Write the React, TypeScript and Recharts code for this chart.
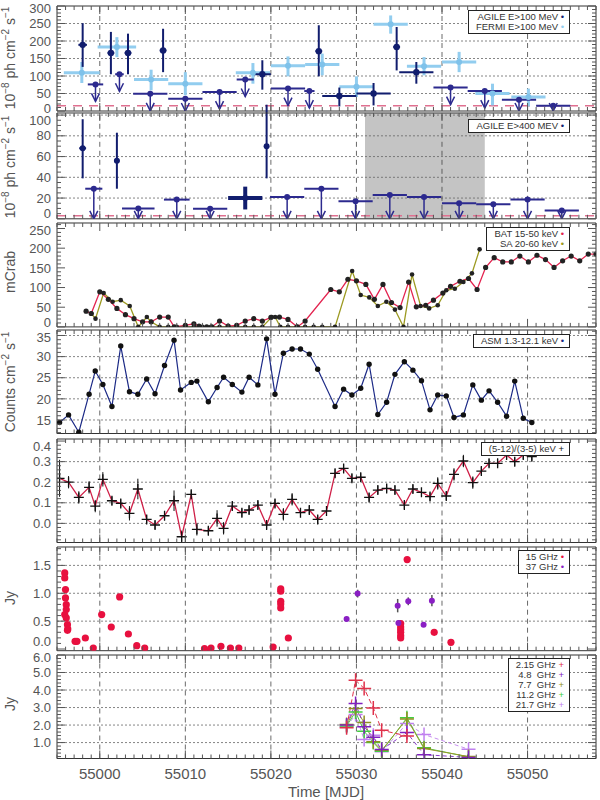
import React from 'react'
import {
  ComposedChart,
  ErrorBar,
  Line,
  ReferenceArea,
  ReferenceLine,
  Scatter,
  XAxis,
  YAxis,
} from 'recharts'

const FONT = '"Liberation Sans", "DejaVu Sans", Arial, sans-serif'
const INK = '#555'
const NAVY = '#111d6e'
const UL_NAVY = '#2c2a8e'
const FERMI = '#92cdef'
const BAT_RED = '#e3234f'
const SA_OLIVE = '#9c9a22'
const ASM_NAVY = '#1c2a86'
const HR_RED = '#cf1f47'
const R15 = '#e8103f'
const R37 = '#8a1fc4'

// shared time axis (MJD)
const X_DOMAIN: [number, number] = [54995, 55058]
const X_GRID = [55000, 55010, 55020, 55030, 55040, 55050]
const X_TICKS: number[] = []
for (let d = 54995; d <= 55058; d++) X_TICKS.push(d)

// --- AGILE / FERMI E>100 MeV ---
const AG100_X = [54998.0, 55001.3, 55003.3, 55007.4, 55019.0, 55025.6, 55028.0, 55032.0, 55034.7, 55037.0]
const AG100_Y = [189, 166, 166, 173, 105, 171, 43, 50, 183, 111]
const AG100_LO = [126, 105, 105, 111, 61, 99, 13, 16, 116, 78]
const AG100_HI = [251, 226, 221, 235, 145, 245, 67, 80, 240, 140]
const AG100_DX = [0.5, 0.4, 0.4, 0.4, 1, 0.4, 2, 2, 0.4, 2]
const AG100_UL_X = [54999.5, 55002.3, 55005.9, 55010.0, 55014.0, 55017.0, 55022.0, 55024.5, 55041.0, 55045.0, 55049.0, 55053.0]
const AG100_UL_Y = [76, 105, 49, 35, 54, 90, 64, 57, 67, 57, 32, 15]
const AG100_UL_DX = [0.9, 0.5, 2, 2, 2, 1, 2, 0.6, 2, 2, 2, 2]
const FERMI_X = [54997.9, 55002.0, 55006.0, 55010.0, 55017.9, 55022.0, 55026.0, 55030.0, 55034.0, 55037.9, 55042.0, 55045.9, 55050.1]
const FERMI_Y = [109, 183, 90, 78, 109, 129, 133, 69, 248, 128, 140, 50, 40]
const FERMI_LO = [80, 154, 59, 45, 78, 99, 102, 40, 221, 102, 111, 16, 13]
const FERMI_HI = [140, 211, 118, 111, 137, 156, 164, 99, 273, 154, 169, 78, 64]
const FERMI_DX = [2.1, 2.25, 2, 2, 2, 2, 2, 2, 2, 2, 2, 2, 2]

// --- AGILE E>400 MeV ---
const AG400_X = [54998.0, 55002.0, 55019.5]
const AG400_Y = [68, 56, 70]
const AG400_LO = [39, 29, 39]
const AG400_HI = [96, 83, 110]
const AG400_DX = [0.4, 0.3, 0.2]
const AG400_WIDE_X = [55017.0]
const AG400_WIDE_Y = [20]
const AG400_WIDE_LO = [9]
const AG400_WIDE_HI = [31]
const AG400_WIDE_DX = [2]
const AG400_UL_X = [54999.3, 55004.5, 55009.0, 55012.9, 55021.9, 55025.9, 55029.9, 55033.9, 55037.9, 55042.0, 55046.0, 55050.0, 55054.0]
const AG400_UL_Y = [29, 10, 18.5, 9.8, 21, 29, 17, 23, 21, 15, 14, 18.5, 8]
const AG400_UL_DX = [1, 1.9, 1.5, 2, 2, 2, 2, 2, 2, 2, 2, 2, 2]
const SHADE: [number, number] = [55031, 55045]

// --- BAT / SuperAGILE (mCrab) ---
const BAT_X = [54998.4, 54999.0, 55000.0, 55001.0, 55002.0, 55003.0, 55004.0, 55005.0, 55006.0, 55007.0, 55008.0, 55008.7, 55010.0, 55011.0, 55011.6, 55012.5, 55013.1, 55014.0, 55015.0, 55016.0, 55017.0, 55018.0, 55019.0, 55020.0, 55021.0, 55022.0, 55023.1, 55024.0, 55027.0, 55028.0, 55029.0, 55030.0, 55031.1, 55032.1, 55033.1, 55034.1, 55035.1, 55036.1, 55037.0, 55038.1, 55039.0, 55040.1, 55041.0, 55042.1, 55043.1, 55044.1, 55045.1, 55046.1, 55047.1, 55048.1, 55049.1, 55050.1, 55051.1, 55052.1, 55053.1, 55054.1, 55055.1, 55056.1, 55057.1, 55058.0]
const BAT_Y = [40, 34, 89, 70, 47, 31, 21, 13, 13, 25, 25, 0, 4, 8, 2, 0, 0, 15, 2, 4, 15, 21, 15, 24, 25, 19, 0, 15, 95, 89, 121, 117, 108, 70, 108, 62, 49, 114, 51, 55, 68, 86, 103, 116, 123, 95, 151, 176, 165, 165, 180, 165, 182, 171, 151, 168, 180, 168, 185, 185]
const SA_X = [54999.0, 54999.5, 55000.45, 55001.5, 55002.45, 55003.5, 55004.5, 55005.5, 55006.0, 55007.0, 55008.0, 55009.0, 55010.0, 55011.0, 55012.0, 55013.0, 55014.0, 55015.0, 55016.0, 55017.0, 55018.0, 55019.0, 55020.1, 55020.5, 55021.1, 55022.0, 55023.0, 55024.0, 55025.0, 55026.0, 55027.5, 55029.5, 55030.5, 55031.5, 55032.5, 55033.5, 55034.5, 55035.5, 55036.5, 55037.5, 55038.5, 55039.5, 55040.5, 55041.5, 55042.5, 55043.5, 55044.4]
const SA_Y = [34, 21, 86, 64, 68, 53, 0, 25, 13, 0, 0, 0, 0, 0, 0, 0, 0, 0, 0, 0, 0, 0, 25, 25, 0, 0, 0, 0, 0, 0, 0, 142, 81, 75, 53, 64, 44, 0, 133, 53, 47, 55, 93, 97, 114, 136, 197]

// --- ASM 1.3-12.1 keV and hardness ratio ---
const ASM_X = [54995.3, 54996.35, 54997.55, 54998.75, 54999.47, 55000.36, 55001.42, 55002.45, 55003.47, 55004.45, 55005.48, 55006.46, 55007.57, 55008.68, 55009.44, 55010.69, 55011.35, 55012.69, 55013.71, 55014.47, 55015.49, 55016.61, 55017.45, 55018.48, 55019.5, 55020.48, 55021.46, 55022.48, 55023.46, 55024.49, 55025.47, 55027.5, 55028.5, 55029.47, 55030.5, 55031.48, 55032.5, 55033.53, 55034.5, 55035.6, 55036.6, 55037.6, 55038.6, 55039.5, 55040.5, 55041.4, 55042.5, 55043.6, 55044.6, 55045.5, 55046.5, 55047.55, 55048.5, 55049.5, 55050.5]
const ASM_Y = [14.4, 16.2, 12.1, 21.1, 26.6, 23.4, 18.2, 32.5, 21.7, 21.1, 24.7, 21.2, 27.9, 33.9, 22.1, 23.9, 24.2, 19.3, 22.7, 25.1, 23.4, 21.6, 25.1, 23.3, 34.2, 21.1, 30.8, 31.8, 31.8, 30.6, 27.0, 18.2, 22.3, 20.9, 22.5, 28.2, 16.3, 19.2, 25.8, 28.8, 26.8, 24.3, 17.4, 20.9, 20.7, 15.6, 16.2, 23.3, 19.7, 21.9, 19.2, 15.9, 24.2, 15.4, 14.4]
const HR_X = [54995.3, 54996.35, 54997.55, 54998.75, 54999.47, 55000.36, 55001.42, 55002.45, 55003.47, 55004.45, 55005.48, 55006.46, 55007.57, 55008.68, 55009.57, 55010.69, 55011.35, 55012.69, 55013.71, 55014.47, 55015.49, 55016.61, 55017.45, 55018.48, 55019.5, 55020.48, 55021.46, 55022.48, 55023.46, 55024.49, 55025.47, 55026.5, 55027.5, 55028.5, 55029.47, 55030.5, 55031.48, 55032.5, 55033.53, 55034.5, 55035.6, 55036.6, 55037.6, 55038.6, 55039.5, 55040.5, 55041.4, 55042.5, 55043.6, 55044.6, 55045.5, 55046.5, 55047.55, 55048.5, 55049.5, 55050.5]
const HR_Y = [0.219, 0.2, 0.126, 0.175, 0.084, 0.214, 0.11, 0.097, 0.049, 0.167, 0.019, -0.008, 0.037, 0.11, -0.065, 0.141, -0.029, -0.036, 0.024, -0.024, 0.084, 0.052, 0.065, 0.089, -0.008, 0.097, 0.044, 0.117, 0.052, 0.065, 0.019, 0.06, 0.243, 0.267, 0.219, 0.224, 0.126, 0.162, 0.17, 0.162, 0.089, 0.167, 0.151, 0.13, 0.194, 0.133, 0.238, 0.303, 0.198, 0.254, 0.292, 0.292, 0.332, 0.3, 0.332, 0.324]
const HR_ERR = [0.09, 0.03, 0.03, 0.03, 0.03, 0.035, 0.02, 0.02, 0.035, 0.05, 0.02, 0.02, 0.02, 0.05, 0.03, 0.02, 0.03, 0.02, 0.04, 0.03, 0.02, 0.02, 0.02, 0.02, 0.02, 0.02, 0.03, 0.03, 0.02, 0.02, 0.02, 0.02, 0.02, 0.02, 0.02, 0.02, 0.02, 0.02, 0.02, 0.02, 0.02, 0.02, 0.02, 0.02, 0.03, 0.02, 0.03, 0.03, 0.03, 0.02, 0.02, 0.02, 0.02, 0.02, 0.02, 0.02]

// --- radio 15 / 37 GHz ---
const R15_X = [54995.9, 54995.9, 54995.99, 54995.99, 54996.08, 54996.08, 54995.9, 54996.08, 54996.22, 54996.26, 54996.22, 54997.11, 54997.33, 54998.31, 54999.24, 55000.22, 55001.34, 55002.32, 55003.34, 55004.32, 55005.25, 55012.24, 55013.0, 55014.16, 55015.27, 55016.25, 55020.26, 55021.15, 55021.15, 55021.15, 55021.15, 55021.15, 55022.04, 55035.17, 55035.17, 55035.17, 55035.17, 55035.17, 55035.17, 55035.93, 55039.09, 55041.05]
const R15_Y = [1.365, 1.275, 1.066, 0.916, 0.796, 0.707, 0.617, 0.557, 0.437, 0.359, 0.335, 0.138, 0.138, 0.198, 0.018, 0.617, 0.395, 0.934, 0.269, 0.06, 0.018, 0.006, 0.018, 0.048, 0.018, 0.018, 0.036, 1.078, 1.036, 0.856, 0.808, 0.737, 0.198, 0.455, 0.395, 0.347, 0.299, 0.24, 0.198, 1.605, 0.299, 0.12]
const R37_X = [55028.85, 55030.14, 55034.82, 55034.91, 55036.06, 55037.85, 55038.82]
const R37_Y = [0.539, 0.994, 0.778, 0.467, 0.856, 0.437, 0.868]
const R37_ERR = [0.04, 0.07, 0.12, 0.05, 0.07, 0.03, 0.1]

// --- multi-frequency radio ---
const RADIO_X = [55028.85, 55029.9, 55030.9, 55031.97, 55032.95, 55035.9, 55037.9, 55043.1]
const F215_Y = [1.84, 4.56, 4.09, 2.98, 1.7, 1.38]
const F48_Y = [2.0, 3.23, 1.9, 1.3, 0.6, 1.57, 0.31, 0.15]
const F77_Y = [2.03, 2.94, 2.14, 1.05, 0.56, 2.35, 0.66, 0.2]
const F112_Y = [1.95, 2.75, 1.65, 1.0, 0.5, 2.41, 0.7, 0.18]
const F217_Y = [1.9, 2.6, 1.17, 1.42, 0.47, 2.09, 1.46, 0.62]

const PLOT_L = 57
const PLOT_R = 596
const PAD = 10
const LABEL_GAP = 15

const P1 = { top: 5.7, bottom: 110.7 }
const P2 = { top: 113.4, bottom: 219.2 }
const P3 = { top: 222.8, bottom: 326.7 }
const P4 = { top: 330, bottom: 433.5 }
const P5 = { top: 439, bottom: 542.5 }
const P6 = { top: 547.3, bottom: 651 }
const P7 = { top: 654.8, bottom: 758.3 }

const pts = (xs: number[], ys: number[]) => xs.map((x, i) => ({ x, y: ys[i] }))
const withErr = (xs: number[], ys: number[], lo: number[], hi: number[], dx: number[]) =>
  xs.map((x, i) => ({ x, y: ys[i], ey: [ys[i] - lo[i], hi[i] - ys[i]], ex: dx[i] }))

const ag100 = withErr(AG100_X, AG100_Y, AG100_LO, AG100_HI, AG100_DX)
const ag100ul = AG100_UL_X.map((x, i) => ({ x, y: AG100_UL_Y[i], ex: AG100_UL_DX[i] }))
const fermi = withErr(FERMI_X, FERMI_Y, FERMI_LO, FERMI_HI, FERMI_DX)
const ag400 = withErr(AG400_X, AG400_Y, AG400_LO, AG400_HI, AG400_DX)
const ag400wide = withErr(AG400_WIDE_X, AG400_WIDE_Y, AG400_WIDE_LO, AG400_WIDE_HI, AG400_WIDE_DX)
const ag400ul = AG400_UL_X.map((x, i) => ({ x, y: AG400_UL_Y[i], ex: AG400_UL_DX[i] }))
const hr = HR_X.map((x, i) => ({ x, y: HR_Y[i], e: HR_ERR[i] }))
const r37 = R37_X.map((x, i) => ({ x, y: R37_Y[i], e: R37_ERR[i] }))

const dotShape = (color: string, r: number) => (p: any) => <circle cx={p.cx} cy={p.cy} r={r} fill={color} />

const plusShape = (color: string, s: number, w = 1.3) => (p: any) => {
  if (p.cx == null || p.cy == null) return <g />
  return (
    <path
      d={`M${p.cx - s},${p.cy}h${2 * s}M${p.cx},${p.cy - s}v${2 * s}`}
      stroke={color}
      strokeWidth={w}
      fill="none"
    />
  )
}

// upper limit: dot with an arrow pointing down (clamped at the panel floor)
const ulShape = (color: string, floor: number, maxLen?: number) => (p: any) => {
  const { cx, cy } = p
  const room = floor - cy
  const len = maxLen ? Math.min(maxLen, room) : room
  const tip = cy + len
  return (
    <g>
      <line x1={cx} x2={cx} y1={cy} y2={tip} stroke={color} strokeWidth={1.5} />
      <polyline
        points={`${cx - 4},${tip - 8} ${cx},${tip} ${cx + 4},${tip - 8}`}
        fill="none"
        stroke={color}
        strokeWidth={1.5}
      />
      <circle cx={cx} cy={cy} r={3} fill={color} />
    </g>
  )
}

interface PanelProps {
  top: number
  bottom: number
  domain: [number, number]
  labels: number[]
  step: number
  fmt?: (v: number) => string
  grid?: number[]
  vgrid?: boolean
  last?: boolean
  shade?: [number, number]
  children?: React.ReactNode
}

function Panel({ top, bottom, domain, labels, step, fmt = (v) => String(v), grid = [], vgrid = true, last = false, shade, children }: PanelProps) {
  const h = bottom - top
  const padB = last ? 42 : PAD
  const yb = PAD + h
  const yTicks: number[] = []
  for (let i = Math.ceil(domain[0] / step - 1e-6); i * step <= domain[1] + 1e-6; i++) {
    yTicks.push(Number((i * step).toFixed(4)))
  }
  const isMajor = (v: number) => labels.some((l) => Math.abs(l - v) < step / 4)
  const majorPx = (h * (labels[1] - labels[0])) / (domain[1] - domain[0])

  const xTick = (edge: 'top' | 'bottom') => (p: any) => {
    const v = p.payload.value
    const major = v % 10 === 0
    const len = major ? 8 : 4
    const y0 = edge === 'top' ? PAD : yb
    const y1 = edge === 'top' ? PAD + len : yb - len
    return (
      <g>
        <line x1={p.x} x2={p.x} y1={y0} y2={y1} stroke={INK} strokeWidth={1} />
        {edge === 'bottom' && last && major && (
          <text x={p.x} y={yb + 20} textAnchor="middle" fontSize={15} fill={INK} fontFamily={FONT}>
            {v}
          </text>
        )}
      </g>
    )
  }

  const yTick = (side: 'left' | 'right') => (p: any) => {
    const v = p.payload.value
    const major = isMajor(v)
    const len = major ? 8 : 4
    const x0 = side === 'left' ? PLOT_L : PLOT_R
    const x1 = side === 'left' ? PLOT_L + len : PLOT_R - len
    // keep edge labels inside the frame, without colliding with their neighbour
    let ly = p.y
    if (ly < PAD + 7) ly = Math.min(PAD + 7, p.y + majorPx - LABEL_GAP)
    if (ly > yb - 9) ly = Math.max(yb - 9, p.y - majorPx + LABEL_GAP)
    return (
      <g>
        <line x1={x0} x2={x1} y1={p.y} y2={p.y} stroke={INK} strokeWidth={1} />
        {side === 'left' && major && (
          <text x={PLOT_L - 6} y={ly} dy="0.36em" textAnchor="end" fontSize={13} fill={INK} fontFamily={FONT}>
            {fmt(v)}
          </text>
        )}
      </g>
    )
  }

  return (
    <div style={{ position: 'absolute', left: 0, top: top - PAD }}>
      <ComposedChart width={600} height={h + PAD + padB} margin={{ top: PAD - 1, right: 0, bottom: padB - 1, left: 0 }}>
        <XAxis
          dataKey="x"
          type="number"
          domain={X_DOMAIN}
          allowDataOverflow
          ticks={X_TICKS}
          interval={0}
          height={1}
          tickLine={false}
          axisLine={{ stroke: '#333' }}
          tick={xTick('bottom')}
        />
        <XAxis
          xAxisId="t"
          orientation="top"
          dataKey="x"
          type="number"
          domain={X_DOMAIN}
          allowDataOverflow
          ticks={X_TICKS}
          interval={0}
          height={1}
          tickLine={false}
          axisLine={{ stroke: '#333' }}
          tick={xTick('top')}
        />
        <YAxis
          type="number"
          domain={domain}
          allowDataOverflow
          ticks={yTicks}
          interval={0}
          width={PLOT_L}
          tickLine={false}
          axisLine={{ stroke: '#333' }}
          tick={yTick('left')}
        />
        <YAxis
          yAxisId="r"
          orientation="right"
          type="number"
          domain={domain}
          allowDataOverflow
          ticks={yTicks}
          interval={0}
          width={600 - PLOT_R}
          tickLine={false}
          axisLine={{ stroke: '#333' }}
          tick={yTick('right')}
        />
        {shade && <ReferenceArea x1={shade[0]} x2={shade[1]} fill="#c4c4c4" fillOpacity={1} stroke="none" />}
        {grid.map((g) => (
          <ReferenceLine key={`h${g}`} y={g} stroke="#666" strokeDasharray="2 2" strokeWidth={0.8} />
        ))}
        {vgrid &&
          X_GRID.map((g) => (
            <ReferenceLine key={`v${g}`} x={g} stroke="#444" strokeDasharray="5 4" strokeWidth={0.8} />
          ))}
        {children}
      </ComposedChart>
    </div>
  )
}

function LegendBox({ top, rows }: { top: number; rows: { text: string; mark: string; color: string }[] }) {
  return (
    <div
      style={{
        position: 'absolute',
        right: 30,
        top,
        border: '1px solid #222',
        background: '#fff',
        padding: '1px 5px 1px 7px',
        fontFamily: FONT,
        fontSize: 9.5,
        lineHeight: '10px',
        color: '#333',
        whiteSpace: 'pre',
        textAlign: 'right',
        zIndex: 5,
      }}
    >
      {rows.map((r) => (
        <div key={r.text}>
          {r.text} <span style={{ color: r.color }}>{r.mark}</span>
        </div>
      ))}
    </div>
  )
}

const sup = (s: string) => (
  <>
    <tspan dy={-6} fontSize={10}>
      {s}
    </tspan>
    <tspan dy={6}> </tspan>
  </>
)

export default function App() {
  const fmt1 = (v: number) => (Math.abs(v) < 1e-9 ? '0.0' : v.toFixed(1))
  return (
    <div style={{ position: 'absolute', left: 0, top: 0, width: 600, height: 800, background: '#fff' }}>
      <Panel top={P1.top} bottom={P1.bottom} domain={[0, 300]} labels={[0, 50, 100, 150, 200, 250, 300]} step={10} grid={[50, 100, 150, 200, 250]}>
        <ReferenceLine y={15} stroke="#e07090" strokeDasharray="9 7" strokeWidth={1.5} />
        <Scatter data={fermi} dataKey="y" isAnimationActive={false} shape={dotShape('#7fc2ea', 3)}>
          <ErrorBar dataKey="ey" direction="y" width={0} stroke={FERMI} strokeWidth={3} />
          <ErrorBar dataKey="ex" direction="x" width={0} stroke={FERMI} strokeWidth={3} />
        </Scatter>
        <Scatter data={ag100ul} dataKey="y" isAnimationActive={false} shape={ulShape(UL_NAVY, PAD + P1.bottom - P1.top, 17)}>
          <ErrorBar dataKey="ex" direction="x" width={0} stroke={UL_NAVY} strokeWidth={2} />
        </Scatter>
        <Scatter data={ag100} dataKey="y" isAnimationActive={false} shape={dotShape(NAVY, 3.2)}>
          <ErrorBar dataKey="ey" direction="y" width={0} stroke={NAVY} strokeWidth={2} />
          <ErrorBar dataKey="ex" direction="x" width={0} stroke={NAVY} strokeWidth={2} />
        </Scatter>
      </Panel>

      <Panel top={P2.top} bottom={P2.bottom} domain={[0, 102]} labels={[0, 20, 40, 60, 80, 100]} step={5} grid={[20, 40, 60, 80, 100]} shade={SHADE}>
        <ReferenceLine y={3} stroke="#e07090" strokeDasharray="9 7" strokeWidth={1.5} />
        <Scatter data={ag400ul} dataKey="y" isAnimationActive={false} shape={ulShape(UL_NAVY, PAD + P2.bottom - P2.top)}>
          <ErrorBar dataKey="ex" direction="x" width={0} stroke={UL_NAVY} strokeWidth={2} />
        </Scatter>
        <Scatter data={ag400} dataKey="y" isAnimationActive={false} shape={dotShape(NAVY, 3)}>
          <ErrorBar dataKey="ey" direction="y" width={0} stroke={NAVY} strokeWidth={2} />
          <ErrorBar dataKey="ex" direction="x" width={0} stroke={NAVY} strokeWidth={2} />
        </Scatter>
        <Scatter data={ag400wide} dataKey="y" isAnimationActive={false} shape={dotShape(NAVY, 3)}>
          <ErrorBar dataKey="ey" direction="y" width={0} stroke={NAVY} strokeWidth={4} />
          <ErrorBar dataKey="ex" direction="x" width={0} stroke={NAVY} strokeWidth={4} />
        </Scatter>
      </Panel>

      <Panel top={P3.top} bottom={P3.bottom} domain={[0, 264]} labels={[0, 50, 100, 150, 200, 250]} step={10} vgrid={false}>
        <Line data={pts(SA_X, SA_Y)} dataKey="y" type="linear" stroke={SA_OLIVE} strokeWidth={1.3} dot={dotShape('#222', 2.3)} isAnimationActive={false} />
        <Line data={pts(BAT_X, BAT_Y)} dataKey="y" type="linear" stroke={BAT_RED} strokeWidth={1.3} dot={dotShape('#222', 2.6)} isAnimationActive={false} />
      </Panel>

      <Panel top={P4.top} bottom={P4.bottom} domain={[11.8, 36.3]} labels={[15, 20, 25, 30, 35]} step={1} grid={[15, 20, 25, 30, 35]}>
        <Line data={pts(ASM_X, ASM_Y)} dataKey="y" type="linear" stroke={ASM_NAVY} strokeWidth={1.2} dot={dotShape('#111', 2.7)} isAnimationActive={false} />
      </Panel>

      <Panel top={P5.top} bottom={P5.bottom} domain={[-0.093, 0.41]} labels={[0, 0.1, 0.2, 0.3, 0.4]} step={0.02} fmt={fmt1} grid={[0, 0.1, 0.2, 0.3]}>
        <Line data={hr} dataKey="y" type="linear" stroke={HR_RED} strokeWidth={1.3} dot={plusShape('#111', 5)} isAnimationActive={false}>
          <ErrorBar dataKey="e" direction="y" width={0} stroke="#111" strokeWidth={1} />
        </Line>
      </Panel>

      <Panel top={P6.top} bottom={P6.bottom} domain={[-0.03, 1.83]} labels={[0, 0.5, 1.0, 1.5]} step={0.1} fmt={fmt1} grid={[0.5, 1.0, 1.5]}>
        <Scatter data={pts(R15_X, R15_Y)} dataKey="y" isAnimationActive={false} shape={dotShape(R15, 3.6)} />
        <Scatter data={r37} dataKey="y" isAnimationActive={false} shape={dotShape(R37, 3)}>
          <ErrorBar dataKey="e" direction="y" width={0} stroke="#555" strokeWidth={1.5} />
        </Scatter>
      </Panel>

      <Panel top={P7.top} bottom={P7.bottom} domain={[0.09, 6.0]} labels={[1, 2, 3, 4, 5, 6]} step={0.2} fmt={fmt1} grid={[1, 2, 3, 4, 5]} last>
        <Line data={pts(RADIO_X, F217_Y)} dataKey="y" type="linear" stroke="#c890f0" strokeWidth={1} strokeDasharray="4 3" dot={plusShape('#c080f0', 7, 1.5)} isAnimationActive={false} />
        <Line data={pts(RADIO_X, F112_Y)} dataKey="y" type="linear" stroke="#48c848" strokeWidth={1} dot={plusShape('#40d040', 7, 1.5)} isAnimationActive={false} />
        <Line data={pts(RADIO_X, F77_Y)} dataKey="y" type="linear" stroke="#9a9a28" strokeWidth={1} dot={plusShape('#909020', 7, 1.5)} isAnimationActive={false} />
        <Line data={pts(RADIO_X, F48_Y)} dataKey="y" type="linear" stroke="#8a3cc8" strokeWidth={1} strokeDasharray="4 3" dot={plusShape('#8020c0', 7, 1.5)} isAnimationActive={false} />
        <Line data={pts(RADIO_X, F215_Y)} dataKey="y" type="linear" stroke="#e0304a" strokeWidth={1} strokeDasharray="5 3" dot={plusShape('#e0304a', 7, 1.5)} isAnimationActive={false} />
      </Panel>

      <svg width={600} height={800} style={{ position: 'absolute', left: 0, top: 0, pointerEvents: 'none' }}>
        <g fontFamily={FONT} fontSize={14} fill={INK}>
          <text transform="translate(15,58) rotate(-90)" textAnchor="middle">
            10{sup('−8')}ph cm{sup('−2')}s{sup('−1')}
          </text>
          <text transform="translate(15,167) rotate(-90)" textAnchor="middle">
            10{sup('−8')}ph cm{sup('−2')}s{sup('−1')}
          </text>
          <text transform="translate(15,272) rotate(-90)" textAnchor="middle">
            mCrab
          </text>
          <text transform="translate(15,382) rotate(-90)" textAnchor="middle">
            Counts cm{sup('−2')}s{sup('−1')}
          </text>
          <text transform="translate(15,598) rotate(-90)" textAnchor="middle">
            Jy
          </text>
          <text transform="translate(15,704) rotate(-90)" textAnchor="middle">
            Jy
          </text>
          <text x={326} y={797} textAnchor="middle" fontSize={15}>
            Time [MJD]
          </text>
        </g>
      </svg>

      <LegendBox
        top={10}
        rows={[
          { text: 'AGILE E>100 MeV', mark: '•', color: NAVY },
          { text: 'FERMI E>100 MeV', mark: '•', color: FERMI },
        ]}
      />
      <LegendBox top={119} rows={[{ text: 'AGILE E>400 MEV', mark: '•', color: NAVY }]} />
      <LegendBox
        top={227}
        rows={[
          { text: 'BAT 15-50 keV', mark: '•', color: BAT_RED },
          { text: 'SA 20-60 keV', mark: '•', color: SA_OLIVE },
        ]}
      />
      <LegendBox top={334} rows={[{ text: 'ASM 1.3-12.1 keV', mark: '•', color: ASM_NAVY }]} />
      <LegendBox top={442} rows={[{ text: '(5-12)/(3-5) keV', mark: '+', color: '#111' }]} />
      <LegendBox
        top={550}
        rows={[
          { text: '15 GHz', mark: '•', color: R15 },
          { text: '37 GHz', mark: '•', color: R37 },
        ]}
      />
      <LegendBox
        top={658}
        rows={[
          { text: '2.15 GHz', mark: '+', color: '#e0304a' },
          { text: '4.8  GHz', mark: '+', color: '#8020c0' },
          { text: '7.7  GHz', mark: '+', color: '#909020' },
          { text: '11.2 GHz', mark: '+', color: '#40d040' },
          { text: '21.7 GHz', mark: '+', color: '#c080f0' },
        ]}
      />
    </div>
  )
}
